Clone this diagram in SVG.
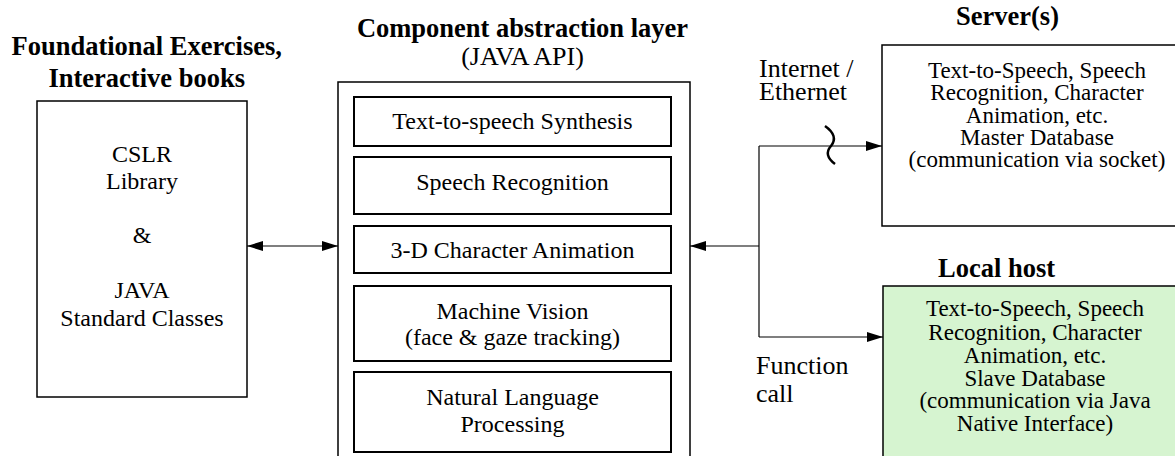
<svg xmlns="http://www.w3.org/2000/svg" width="1175" height="456" viewBox="0 0 1175 456">
  <style>
    text { font-family: "Liberation Serif", "Times New Roman", serif; fill: #000; }
    .title { font-size: 26.5px; font-weight: bold; text-anchor: middle; }
    .sub { font-size: 26px; text-anchor: middle; }
    .body { font-size: 24px; text-anchor: middle; }
    .srv { font-size: 23px; text-anchor: middle; }
    .lbl { font-size: 26px; text-anchor: start; }
    .box { fill: #fff; stroke: #000; stroke-width: 1.5; }
    .inner { fill: #fff; stroke: #000; stroke-width: 2; }
    .green { fill: #d6f4d0; stroke: #000; stroke-width: 1.5; }
    .wire { fill: none; stroke: #000; stroke-width: 1.2; }
  </style>
  <defs>
    <marker id="arrow" viewBox="0 0 16 10" refX="16" refY="5" markerWidth="16" markerHeight="10" markerUnits="userSpaceOnUse" orient="auto-start-reverse">
      <path d="M0,0 L16,5 L0,10 Z" fill="#000"/>
    </marker>
  </defs>

  <!-- Application layer: exercises and books -->
  <g id="apps">
    <text class="title" x="146.7" y="55">Foundational Exercises,</text>
    <text class="title" x="146.7" y="87">Interactive books</text>
    <rect class="box" x="37" y="101" width="210" height="296"/>
    <text class="body" x="142" y="162">CSLR</text>
    <text class="body" x="142" y="189">Library</text>
    <text class="body" x="142" y="243">&amp;</text>
    <text class="body" x="142" y="298">JAVA</text>
    <text class="body" x="142" y="326">Standard Classes</text>
  </g>

  <!-- Component abstraction layer -->
  <g id="api">
    <text class="title" x="522.5" y="37">Component abstraction layer</text>
    <text class="sub" x="522.5" y="65">(JAVA API)</text>
    <rect class="box" x="338" y="82" width="352" height="390"/>
  </g>

  <g id="tts">
    <rect class="inner" x="354" y="97" width="317" height="49"/>
    <text class="body" x="512.5" y="128.5">Text-to-speech Synthesis</text>
  </g>
  <g id="asr">
    <rect class="inner" x="354" y="157" width="317" height="57"/>
    <text class="body" x="512.5" y="189.5">Speech Recognition</text>
  </g>
  <g id="anim">
    <rect class="inner" x="354" y="226" width="317" height="47"/>
    <text class="body" x="512.5" y="257.5">3-D Character Animation</text>
  </g>
  <g id="vision">
    <rect class="inner" x="354" y="286" width="317" height="75"/>
    <text class="body" x="512.5" y="318.5">Machine Vision</text>
    <text class="body" x="512.5" y="345">(face &amp; gaze tracking)</text>
  </g>
  <g id="nlp">
    <rect class="inner" x="354" y="372" width="317" height="80"/>
    <text class="body" x="512.5" y="405">Natural Language</text>
    <text class="body" x="512.5" y="431.5">Processing</text>
  </g>

  <!-- Remote server -->
  <g id="server">
    <text class="title" x="1007.5" y="25">Server(s)</text>
    <rect class="box" x="882" y="45" width="320" height="181"/>
    <text class="srv" x="1037" y="78">Text-to-Speech, Speech</text>
    <text class="srv" x="1037" y="100">Recognition, Character</text>
    <text class="srv" x="1037" y="122.5">Animation, etc.</text>
    <text class="srv" x="1037" y="144.5">Master Database</text>
    <text class="srv" x="1037" y="167">(communication via socket)</text>
  </g>

  <!-- Local host -->
  <g id="localhost">
    <text class="title" x="996.5" y="277">Local host</text>
    <rect class="green" x="883" y="286" width="320" height="190"/>
    <text class="srv" x="1035" y="316">Text-to-Speech, Speech</text>
    <text class="srv" x="1035" y="340">Recognition, Character</text>
    <text class="srv" x="1035" y="363">Animation, etc.</text>
    <text class="srv" x="1035" y="385.5">Slave Database</text>
    <text class="srv" x="1035" y="408">(communication via Java</text>
    <text class="srv" x="1035" y="430.5">Native Interface)</text>
  </g>

  <!-- Connectors -->
  <g id="connectors">
    <line class="wire" x1="247" y1="246" x2="338" y2="246" marker-start="url(#arrow)" marker-end="url(#arrow)"/>
    <line class="wire" x1="759" y1="246" x2="690" y2="246" marker-end="url(#arrow)"/>
    <line class="wire" x1="759" y1="146" x2="759" y2="337"/>
    <line class="wire" x1="759" y1="146" x2="882" y2="146" marker-end="url(#arrow)"/>
    <line class="wire" x1="759" y1="337" x2="883" y2="337" marker-end="url(#arrow)"/>
    <!-- network break mark -->
    <path d="M825,126 Q839,136 831,146 Q823,155 835,164" fill="none" stroke="#000" stroke-width="2.5"/>
    <text class="lbl" x="759" y="77">Internet /</text>
    <text class="lbl" x="759" y="100">Ethernet</text>
    <text class="lbl" x="756" y="374">Function</text>
    <text class="lbl" x="756" y="402">call</text>
  </g>
</svg>
